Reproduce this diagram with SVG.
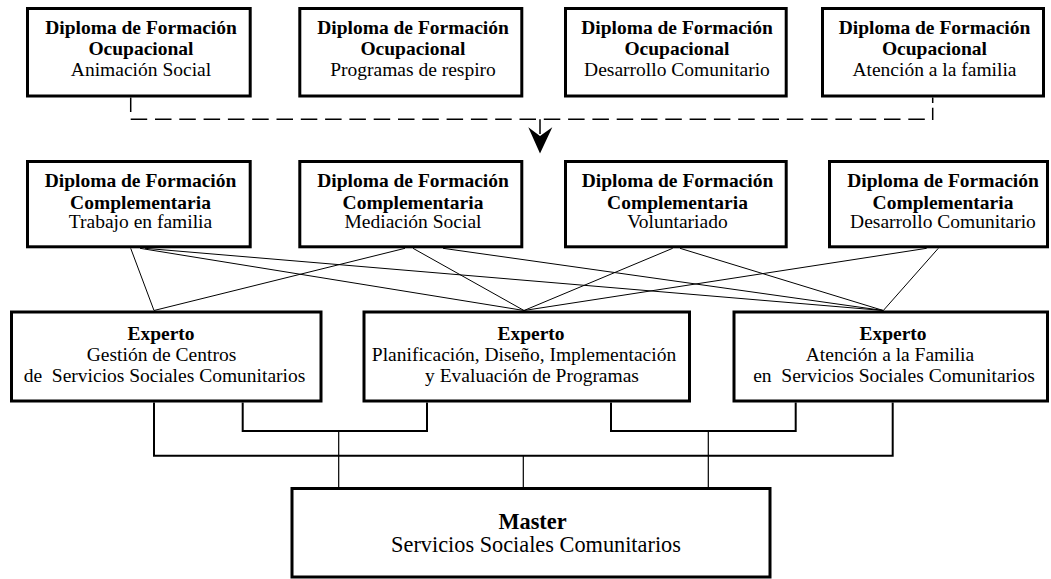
<svg xmlns="http://www.w3.org/2000/svg" width="1051" height="579" viewBox="0 0 1051 579">
<style>
.box{fill:#fff;stroke:#000;stroke-width:3}
text{font-family:"Liberation Serif","Times New Roman",serif;font-size:19.5px;fill:#000;text-anchor:middle}
.b{font-weight:bold}
.m{font-size:22.3px}
.thin{stroke:#000;stroke-width:1;fill:none}
.tree{stroke:#000;stroke-width:2;fill:none}
.drop{stroke:#000;stroke-width:1.2;fill:none}
.dash{stroke:#000;stroke-width:1.5;fill:none;stroke-dasharray:16.5 7.8}
.tick{stroke:#000;stroke-width:1.5;fill:none}
</style>
<g id="connectors">
<path class="tick" d="M130.7,97.5 V112"/>
<path class="dash" d="M130.7,119.3 H925"/>
<path class="tick" d="M932.7,97.5 V103 M932.7,107.7 V120"/>
<path class="tick" d="M540,119.3 V134"/>
<polygon points="528.3,127.3 540,136 552.3,127.3 540,153.5" fill="#000"/>
<path class="thin" d="M130.7,248.3 L154,310.5 M140,248.3 L524,310.5 M145,248.3 L883.3,310.5 M405,248.3 L154,310.5 M413,248.3 L524,310.5 M443,248.3 L883.3,310.5 M672.7,248.3 L524,310.5 M680,248.3 L883.3,310.5 M926.7,248.3 L524,310.5 M938.3,248.3 L883.3,310.5"/>
<path class="tree" d="M154,402.5 V455.7 H892.7 V402.5"/>
<path class="tree" d="M242.7,402.5 V431 H427 V402.5"/>
<path class="tree" d="M611,402.5 V431 H795.7 V402.5"/>
<path class="drop" d="M338.7,431 V488.5 M523.3,455.7 V488.5 M708.3,431 V488.5"/>
</g>
<g id="t1"><rect class="box" x="27.5" y="8.5" width="222.7" height="87.5"/><text x="141" y="33.5" class="b">Diploma de Formación</text><text x="141" y="55" class="b">Ocupacional</text><text x="141" y="75.5">Animación Social</text></g>
<g id="t2"><rect class="box" x="299.8" y="8.5" width="222" height="87.5"/><text x="413" y="33.5" class="b">Diploma de Formación</text><text x="413" y="55" class="b">Ocupacional</text><text x="413" y="75.5">Programas de respiro</text></g>
<g id="t3"><rect class="box" x="565.5" y="8.5" width="220.7" height="87.5"/><text x="677" y="33.5" class="b">Diploma de Formación</text><text x="677" y="55" class="b">Ocupacional</text><text x="677" y="75.5">Desarrollo Comunitario</text></g>
<g id="t4"><rect class="box" x="822.5" y="8.5" width="221" height="87.5"/><text x="934.5" y="33.5" class="b">Diploma de Formación</text><text x="934.5" y="55" class="b">Ocupacional</text><text x="934.5" y="75.5">Atención a la familia</text></g>
<g id="m1"><rect class="box" x="27.5" y="161.5" width="222.7" height="85.3"/><text x="140.5" y="187" class="b">Diploma de Formación</text><text x="140.5" y="208.5" class="b">Complementaria</text><text x="140.5" y="228">Trabajo en familia</text></g>
<g id="m2"><rect class="box" x="299.8" y="161.5" width="222" height="85.3"/><text x="413" y="187" class="b">Diploma de Formación</text><text x="413" y="208.5" class="b">Complementaria</text><text x="413" y="228">Mediación Social</text></g>
<g id="m3"><rect class="box" x="565.5" y="161.5" width="220.7" height="85.3"/><text x="677.5" y="187" class="b">Diploma de Formación</text><text x="677.5" y="208.5" class="b">Complementaria</text><text x="677.5" y="228">Voluntariado</text></g>
<g id="m4"><rect class="box" x="829.5" y="161.5" width="218" height="85.3"/><text x="943" y="187" class="b">Diploma de Formación</text><text x="943" y="208.5" class="b">Complementaria</text><text x="943" y="228">Desarrollo Comunitario</text></g>
<g id="e1"><rect class="box" x="11.5" y="312" width="309.5" height="89"/><text x="161" y="339.5" class="b">Experto</text><text x="161.5" y="360.5">Gestión de Centros</text><text x="164.5" y="381.5" xml:space="preserve" style="white-space:pre">de  Servicios Sociales Comunitarios</text></g>
<g id="e2"><rect class="box" x="364" y="312" width="325.5" height="89"/><text x="531" y="339.5" class="b">Experto</text><text x="524" y="360.5">Planificación, Diseño, Implementación</text><text x="532" y="381.5">y Evaluación de Programas</text></g>
<g id="e3"><rect class="box" x="734" y="312" width="313.5" height="89"/><text x="893" y="339.5" class="b">Experto</text><text x="890" y="360.5">Atención a la Familia</text><text x="894" y="381.5" xml:space="preserve" style="white-space:pre">en  Servicios Sociales Comunitarios</text></g>
<g id="master"><rect class="box" x="292" y="488.5" width="478" height="88.5"/><text x="532.5" y="528.5" class="b m">Master</text><text x="536" y="552" class="m">Servicios Sociales Comunitarios</text></g>
</svg>
